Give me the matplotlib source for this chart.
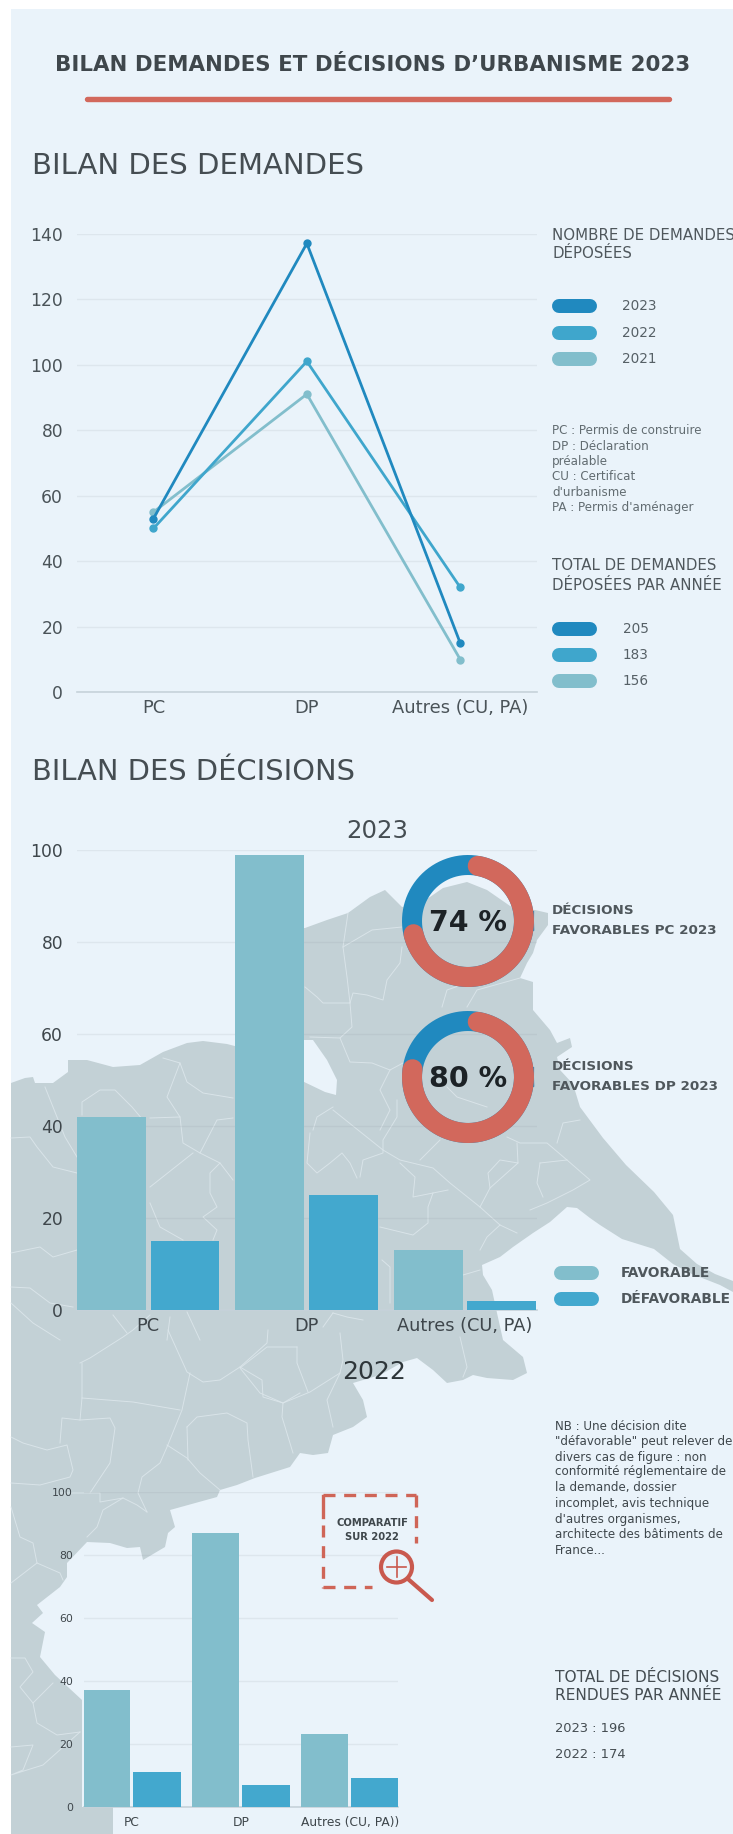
import numpy as np
import matplotlib
matplotlib.use("Agg")
import matplotlib.pyplot as plt
from matplotlib.patches import Polygon, Rectangle, Circle

# ---- data ----
categories = ["PC", "DP", "Autres (CU, PA)"]
categories_2022 = ["PC", "DP", "Autres (CU, PA))"]
demandes_2023 = [53, 137, 15]
demandes_2022 = [50, 101, 32]
demandes_2021 = [55, 91, 10]
demand_ticks = [0, 20, 40, 60, 80, 100, 120, 140]
decision_ticks = [0, 20, 40, 60, 80, 100]
favorable_2023 = [42, 99, 13]
defavorable_2023 = [15, 25, 2]
favorable_2022 = [37, 87, 23]
defavorable_2022 = [11, 7, 9]
pct_pc = 74
pct_dp = 80
totals_demandes = ["205", "183", "156"]
legend_years = ["2023", "2022", "2021"]

# ---- decorative map, in pixels ----
MAP = [(11,1083),(25,1078),(33,1077),(35,1083),(53,1083),(68,1072),(68,1060),(87,1060),(113,1067),(140,1065),
(163,1052),(187,1043),(203,1041),(227,1044),(250,1050),(270,1040),(270,930),(305,928),(327,920),(348,913),(370,897),
(385,890),(402,907),(415,905),(430,897),(443,888),(467,882),(487,890),(513,908),(535,910),(548,913),(548,925),(537,940),
(533,953),(527,963),(520,978),(533,982),(533,1000),(533,1010),(550,1030),(557,1043),(570,1038),(572,1047),(557,1057),
(560,1070),(573,1084),(580,1107),(603,1138),(626,1165),(654,1192),(673,1215),(680,1249),(697,1264),(715,1274),(733,1281),
(733,1292),(720,1285),(692,1274),(673,1264),(654,1249),(622,1239),(600,1225),(590,1218),(577,1208),(567,1207),(550,1222),
(533,1233),(513,1247),(500,1257),(482,1265),(483,1275),(492,1290),(497,1313),(503,1340),(523,1357),(527,1373),(513,1380),
(487,1378),(473,1375),(463,1380),(447,1383),(433,1370),(417,1358),(403,1362),(380,1375),(353,1383),(363,1400),(367,1417),
(353,1427),(333,1435),(328,1453),(313,1455),(300,1453),(290,1467),(255,1478),(237,1485),(220,1490),(217,1497),(170,1510),
(175,1527),(168,1533),(165,1547),(143,1560),(140,1547),(127,1548),(110,1543),(87,1542),(67,1563),(67,1577),(60,1587),
(37,1605),(43,1613),(32,1623),(45,1632),(40,1657),(55,1675),(82,1700),(82,1807),(113,1807),(113,1834),(11,1834)]
HOLE = [(300,1040),(313,1040),(320,1050),(327,1060),(337,1080),(336,1095),(325,1092),(300,1080)]
BORDERS = [
[(80,1363),(90,1358),(123,1337),(133,1330),(150,1315)],[(150,1187),(193,1153)],
[(82,1363),(82,1398),(80,1420)],[(82,1398),(133,1402),(180,1410)],
[(190,1373),(182,1410),(167,1447),(160,1463),(142,1477),(138,1493),(147,1512)],
[(167,1445),(187,1458),(200,1473),(220,1490)],
[(168,1330),(187,1372),(203,1382),(220,1380),(240,1367),(267,1343),(268,1330)],
[(240,1367),(262,1380),(263,1397),(283,1403),(300,1393)],
[(187,1427),(197,1417),(227,1413),(247,1423),(248,1440),(253,1477)],[(187,1427),(188,1460)],
[(60,1443),(62,1418),(80,1420),(110,1418),(115,1428),(110,1463),(90,1493)],
[(11,1437),(23,1443),(47,1450),(67,1445),(73,1470),(70,1477),(40,1485),(11,1483)],
[(60,1493),(100,1493),(100,1502),(123,1498),(137,1505),(147,1512)],[(123,1498),(103,1510),(97,1527),(87,1537)],
[(11,1507),(20,1537),(33,1543),(37,1563),(60,1573),(63,1580)],[(37,1563),(11,1583)],
[(11,1658),(25,1658),(33,1672),(20,1687),(33,1703),(53,1683)],[(33,1703),(37,1723),(57,1735),(80,1732)],
[(11,1747),(33,1745),(23,1770),(11,1775),(43,1765),(80,1732)],
[(45,1087),(53,1107),(65,1137),(77,1157)],[(82,1115),(82,1102),(100,1090),(115,1090),(132,1107),(143,1120)],
[(163,1058),(180,1063),(167,1097),(180,1117),(183,1143),(200,1153),(217,1120),(233,1118)],
[(180,1063),(187,1082),(203,1093),(233,1098)],[(150,1118),(180,1117)],
[(200,1153),(220,1163),(210,1173),(210,1193),(217,1207),(203,1217),(217,1230),(213,1240)],[(220,1163),(233,1180)],
[(150,1203),(160,1227),(183,1240)],[(11,1138),(30,1137),(37,1147),(53,1167),(77,1173)],
[(11,1253),(40,1247),(53,1257),(77,1250)],[(11,1287),(30,1288),(50,1303),(73,1307)],[(11,1303),(33,1323),(60,1340)],
[(113,1315),(127,1333)],[(187,1312),(200,1340)],[(170,1317),(167,1340)],
[(305,987),(317,997),(323,1003),(350,1003),(353,993),(367,995),(383,1000),(387,980),(400,963),(402,947)],
[(350,1003),(352,1027),(340,1038),(350,1062),(372,1063),(390,1070),(403,1063)],
[(343,947),(372,930),(402,927)],[(348,913),(343,947),(347,977),(350,1003)],
[(442,1007),(447,990),(467,983)],[(467,1007),(477,990),(520,978)],[(340,1038),(310,1037)],
[(390,1070),(380,1090),(390,1110),(380,1130)],[(333,1107),(317,1117),(313,1130)],[(447,1087),(457,1097),(487,1107)],
[(333,1110),(383,1150),(400,1160),(433,1168),(450,1183),(480,1207),(500,1225),(517,1233)],
[(397,1100),(397,1117),(383,1140),(383,1153),(363,1160),(360,1177)],
[(310,1133),(307,1163),(317,1173),(330,1163),(342,1153),(350,1163),(357,1178)],
[(400,1163),(415,1177),(413,1197),(433,1193),(448,1190)],[(433,1193),(428,1207),(428,1223),(413,1235),(380,1227)],
[(420,1160),(440,1140)],[(517,1143),(518,1163),(500,1160),(488,1173),(490,1188),(480,1207)],[(518,1163),(490,1188)],
[(507,1137),(520,1143),(547,1143),(567,1160),(590,1180),(573,1190),(547,1203),(530,1210)],
[(540,1163),(537,1183),(543,1197)],[(540,1163),(567,1160)],[(557,1143),(563,1123),(580,1120)],
[(500,1225),(487,1237),(480,1250)],[(463,1275),(480,1270)],[(382,1260),(390,1267),(390,1303)],
[(460,1337),(467,1367),(463,1377)],[(333,1313),(323,1327)],[(333,1313),(347,1317),(363,1320)],
[(340,1333),(343,1360),(340,1373),(310,1392),(283,1403),(260,1393),(240,1368),(267,1347),(297,1347)],
[(297,1347),(297,1363),(308,1392)],[(340,1373),(327,1400),(333,1427)],[(283,1403),(282,1417),(293,1453)],
]

W, H = 733, 1834
BG = "#EAF3FA"
MAPC = "#C3D1D6"
C23, C22, C21 = "#2089BF", "#3FA6CC", "#82BECC"
RED = "#D2685C"
TXT = "#41494E"
plt.rcParams["font.family"] = ["DejaVu Sans"]

fig = plt.figure(figsize=(W/100, H/100), dpi=100, facecolor="white")
bg = fig.add_axes([0, 0, 1, 1], zorder=0)
bg.set_xlim(0, W); bg.set_ylim(H, 0); bg.axis("off")
bg.add_patch(Rectangle((11, 9), W-11, H-9, fc=BG, ec="none"))
bg.add_patch(Polygon(MAP, closed=True, fc=MAPC, ec="none"))
bg.add_patch(Polygon(HOLE, closed=True, fc=BG, ec="none"))
for line in BORDERS:
    a = np.array(line)
    bg.plot(a[:, 0], a[:, 1], color="#DDE7EC", lw=0.7, alpha=0.85, solid_joinstyle="round")

fg = fig.add_axes([0, 0, 1, 1], zorder=5)
fg.set_xlim(0, W); fg.set_ylim(H, 0); fg.axis("off"); fg.patch.set_alpha(0)

def t(x, y, s, size, weight="normal", color=TXT, ha="left"):
    fg.text(x, y, s, fontsize=size, fontweight=weight, color=color, ha=ha, va="center", clip_on=True)

def chip(x0, x1, yc, color, h=14):
    fg.plot([x0+h/2, x1-h/2], [yc, yc], color=color, lw=h*0.72, solid_capstyle="round")

def chart_axes(x0, x1, ytop, ybot):
    ax = fig.add_axes([x0/W, 1-ybot/H, (x1-x0)/W, (ybot-ytop)/H], zorder=3)
    ax.patch.set_alpha(0)
    for s in ax.spines.values():
        s.set_visible(False)
    ax.spines["bottom"].set_visible(True)
    ax.spines["bottom"].set_color("#C6D2DA")
    ax.spines["bottom"].set_linewidth(1.2)
    ax.set_axisbelow(True)
    ax.grid(axis="y", color="#8E979E", alpha=0.14, lw=1)
    ax.grid(axis="x", visible=False)
    return ax

# ---- headers ----
t(373, 65, "BILAN DEMANDES ET DÉCISIONS D’URBANISME 2023", 15.4, "bold", "#3F474C", "center")
fg.plot([87, 669], [99, 99], color=RED, lw=3.9, solid_capstyle="round")
t(32, 166, "BILAN DES DEMANDES", 21, "normal", "#454D52")
t(32, 772, "BILAN DES DÉCISIONS", 20.8, "normal", "#454D52")

# ---- line chart ----
ax1 = chart_axes(77, 537, 233.6, 692.3)
x = np.arange(len(categories))
for vals, col in ((demandes_2021, C21), (demandes_2022, C22), (demandes_2023, C23)):
    ax1.plot(x, vals, color=col, lw=2, marker="o", ms=5, clip_on=False)
ax1.set_xlim(-0.498, 2.5); ax1.set_ylim(0, 140)
ax1.set_yticks(demand_ticks); ax1.set_xticks(x, categories)
ax1.tick_params(axis="y", length=0, pad=10, labelsize=12.3, labelcolor="#4A5358")
ax1.tick_params(axis="x", length=0, pad=5, labelsize=12.9, labelcolor="#4A5358")

t(552, 235, "NOMBRE DE DEMANDES", 10.8, "normal", "#4F575C")
t(552, 254, "DÉPOSÉES", 10.8, "normal", "#4F575C")
for yy, lab, col in zip((306, 333, 359), legend_years, (C23, C22, C21)):
    chip(552, 597, yy, col)
    t(622, yy, lab, 9.8, "normal", "#566066")
for yy, s in zip((431, 446, 461, 477, 492, 507),
                 ("PC : Permis de construire", "DP : Déclaration", "préalable", "CU : Certificat",
                  "d'urbanisme", "PA : Permis d'aménager")):
    t(552, yy, s, 8.6, "normal", "#626C71")
t(552, 566, "TOTAL DE DEMANDES", 10.8, "normal", "#4F575C")
t(552, 585, "DÉPOSÉES PAR ANNÉE", 10.8, "normal", "#4F575C")
for yy, lab, col in zip((629, 655, 681), totals_demandes, (C23, C22, C21)):
    chip(552, 597, yy, col)
    t(623, yy, lab, 9.8, "normal", "#566066")

# ---- bar charts ----
BF, BD = "#82BECC", "#43A8CE"
def bars(ax, fav, dfv, labels, xl, ysize, xsize, pad):
    x = np.arange(len(labels))
    ax.bar(x-0.232, fav, width=0.435, color=BF, zorder=3)
    ax.bar(x+0.232, dfv, width=0.435, color=BD, zorder=3)
    ax.set_xlim(*xl); ax.set_ylim(0, 100)
    ax.set_yticks(decision_ticks); ax.set_xticks(x, labels)
    ax.tick_params(axis="y", length=0, pad=pad, labelsize=ysize, labelcolor="#3E464B")
    ax.tick_params(axis="x", length=0, labelsize=xsize, labelcolor="#3E464B")

ax2 = chart_axes(77, 537, 850.2, 1310.2)
bars(ax2, favorable_2023, defavorable_2023, categories, (-0.45, 2.455), 12.3, 12.8, 10)
ax2.tick_params(axis="x", pad=5)
t(377, 831, "2023", 17.6, "normal", "#454D52", "center")

ax3 = chart_axes(84, 398, 1491.7, 1806.7)
bars(ax3, favorable_2022, defavorable_2022, categories_2022, (-0.4385, 2.442), 7.8, 8.8, 8)
ax3.tick_params(axis="x", pad=7)
t(374, 1372, "2022", 18, "normal", "#2E363A", "center")

# ---- donuts ----
def donut(cx, cy, pct):
    r = 56
    th = np.linspace(0, 2*np.pi, 200)
    lw_pt = 20*0.72
    fg.plot(cx+r*np.cos(th), cy-r*np.sin(th), color=C23, lw=lw_pt, zorder=2)
    cap = 10
    th = np.radians(np.linspace(90-cap, 90-pct*3.6+cap, 200))
    fg.plot(cx+r*np.cos(th), cy-r*np.sin(th), color=RED, lw=lw_pt, solid_capstyle="round", zorder=3)
    t(cx, cy+2, f"{pct} %", 20.5, "bold", "#1C2226", "center")

donut(468, 921, pct_pc)
donut(468, 1077, pct_dp)
t(552, 911, "DÉCISIONS", 9.7, "bold", "#4F575C")
t(552, 931, "FAVORABLES PC 2023", 9.7, "bold", "#4F575C")
t(552, 1067, "DÉCISIONS", 9.7, "bold", "#4F575C")
t(552, 1086, "FAVORABLES DP 2023", 9.7, "bold", "#4F575C")
chip(554, 599, 1273, BF)
chip(554, 599, 1299, BD)
t(621, 1273, "FAVORABLE", 9.9, "bold", "#4F575C")
t(621, 1299, "DÉFAVORABLE", 9.9, "bold", "#4F575C")

# ---- comparatif box ----
RB = "#CF6557"
fg.plot([323, 323], [1517, 1496], color=RB, lw=2.4)
fg.plot([323, 416], [1495, 1495], color=RB, lw=2.4, dashes=(3.6, 2.6))
fg.plot([415.5, 415.5], [1495, 1543], color=RB, lw=2.4, dashes=(3.6, 2.6))
fg.plot([323, 323], [1525, 1588], color=RB, lw=2.4, dashes=(3.6, 2.6))
fg.plot([323, 372], [1587, 1587], color=RB, lw=2.4, dashes=(3.6, 2.6))
t(372, 1523, "COMPARATIF", 7.2, "bold", "#3F474C", "center")
t(372, 1537, "SUR 2022", 7.2, "bold", "#3F474C", "center")
fg.add_patch(Circle((396.5, 1567), 15.5, fc="none", ec="#C9594E", lw=3))
fg.plot([387, 406], [1567, 1567], color="#C9594E", lw=1.2)
fg.plot([396.5, 396.5], [1557, 1577], color="#C9594E", lw=1.2)
fg.plot([408, 432], [1579, 1600], color="#C9594E", lw=3, solid_capstyle="round")

# ---- notes ----
note = ["NB : Une décision dite", "\"défavorable\" peut relever de", "divers cas de figure : non",
        "conformité réglementaire de", "la demande, dossier", "incomplet, avis technique",
        "d'autres organismes,", "architecte des bâtiments de", "France..."]
for yy, s in zip((1426, 1442, 1457, 1472, 1487, 1503, 1519, 1535, 1551), note):
    t(555, yy, s, 8.6, "normal", "#3F474C")
t(555, 1677, "TOTAL DE DÉCISIONS", 11.1, "normal", "#454D52")
t(555, 1696, "RENDUES PAR ANNÉE", 11.1, "normal", "#454D52")
t(555, 1728, "2023 : 196", 9.4, "normal", "#454D52")
t(555, 1755, "2022 : 174", 9.4, "normal", "#454D52")

fig.savefig("out.png", dpi=100, facecolor="white")
